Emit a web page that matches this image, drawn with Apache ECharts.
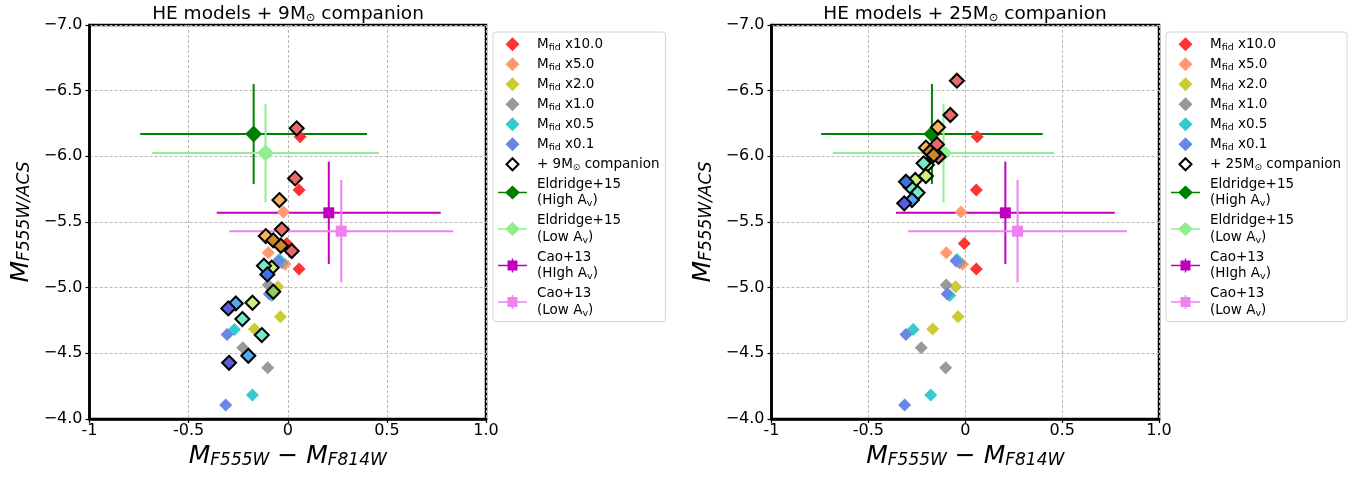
<!DOCTYPE html>
<html><head><meta charset="utf-8">
<script src="https://cdn.jsdelivr.net/npm/echarts@6/dist/echarts.min.js"></script>
<style>html,body{margin:0;padding:0;background:#fff}#c{width:1372px;height:477px}</style>
</head><body><div id="c"></div>
<script>
// ---------- tick labels ----------
const xTickLabels = ['-1', '-0.5', '0', '0.5', '1.0'];
const yTickLabels = ['−7.0', '−6.5', '−6.0', '−5.5', '−5.0', '−4.5', '−4.0'];
const panelTitles = ['HE models + 9M{sun|⊙} companion', 'HE models + 25M{sun|⊙} companion'];

// ---------- HE models alone (same in both panels) ----------
const modelNames = ['Mfid x10.0', 'Mfid x5.0', 'Mfid x2.0', 'Mfid x1.0', 'Mfid x0.5', 'Mfid x0.1'];
const mfid10 = [[0.062, -6.15], [0.057, -5.743], [-0.005, -5.337], [0.057, -5.142]];
const mfid5 = [[-0.022, -5.576], [-0.098, -5.266], [-0.014, -5.178]];
const mfid2 = [[-0.05, -5.007], [-0.037, -4.778], [-0.168, -4.685]];
const mfid1 = [[-0.03, -5.19], [-0.098, -5.02], [-0.227, -4.542], [-0.101, -4.39]];
const mfid05 = [[-0.043, -5.215], [-0.08, -4.94], [-0.269, -4.682], [-0.178, -4.182]];
const mfid01 = [[-0.047, -5.203], [-0.093, -4.952], [-0.306, -4.644], [-0.313, -4.106]];

// ---------- HE models + 9 Msun companion ----------
const c9Red = [[0.045, -6.213], [0.037, -5.832], [-0.030, -5.444], [0.020, -5.279]];
const c9Orange = [[-0.042, -5.667], [-0.111, -5.393]];
const c9DarkOrange = [[-0.073, -5.36], [-0.035, -5.319]];
const c9YellowGreen = [[-0.081, -5.152], [-0.178, -4.885]];
const c9Green = [[-0.073, -4.969]];
const c9Aqua = [[-0.12, -5.167], [-0.229, -4.761], [-0.131, -4.639]];
const c9Blue = [[-0.103, -5.101]];
const c9LightBlue = [[-0.262, -4.88], [-0.199, -4.481]];
const c9DarkBlue = [[-0.3, -4.842], [-0.296, -4.428]];

// ---------- HE models + 25 Msun companion ----------
const c25Red = [[-0.043, -6.576], [-0.077, -6.315], [-0.146, -6.091], [-0.138, -5.997]];
const c25Orange = [[-0.141, -6.221], [-0.203, -6.066]];
const c25DarkOrange = [[-0.181, -6.035], [-0.163, -6.01]];
const c25YellowGreen = [[-0.198, -5.934], [-0.203, -5.85], [-0.258, -5.82]];
const c25Aqua = [[-0.215, -5.947], [-0.284, -5.769], [-0.246, -5.723]];
const c25Blue = [[-0.306, -5.807]];
const c25LightBlue = [[-0.275, -5.667]];
const c25DarkBlue = [[-0.315, -5.642]];

// ---------- observations: [x, y, xerr, yerr] ----------
const eldridgeHigh = [[-0.172, -6.17, 0.572, 0.38]];
const eldridgeLow = [[-0.112, -6.025, 0.572, 0.375]];
const caoHigh = [[0.207, -5.57, 0.565, 0.39]];
const caoLow = [[0.27, -5.43, 0.565, 0.39]];

const obsNames = ['Eldridge+15 (High Av)', 'Eldridge+15 (Low Av)', 'Cao+13 (HIgh Av)', 'Cao+13 (Low Av)'];
const compNames = ['+ 9M⊙ companion', '+ 25M⊙ companion'];

const legendText = {
  'Mfid x10.0': 'M{sub|fid} x10.0',
  'Mfid x5.0': 'M{sub|fid} x5.0',
  'Mfid x2.0': 'M{sub|fid} x2.0',
  'Mfid x1.0': 'M{sub|fid} x1.0',
  'Mfid x0.5': 'M{sub|fid} x0.5',
  'Mfid x0.1': 'M{sub|fid} x0.1',
  '+ 9M⊙ companion': '+ 9M{sun|⊙} companion',
  '+ 25M⊙ companion': '+ 25M{sun|⊙} companion',
  'Eldridge+15 (High Av)': 'Eldridge+15\n(High A{sub|v})',
  'Eldridge+15 (Low Av)': 'Eldridge+15\n(Low A{sub|v})',
  'Cao+13 (HIgh Av)': 'Cao+13\n(HIgh A{sub|v})',
  'Cao+13 (Low Av)': 'Cao+13\n(Low A{sub|v})'
};

const FONT = 'DejaVu Sans';
const modelColors = ['#ff3333', '#ff9973', '#cbcb33', '#999999', '#33cbcb', '#6787e7'];
const modelData = [mfid10, mfid5, mfid2, mfid1, mfid05, mfid01];

const grids = [
  {left: 89.5, top: 25, width: 396.5, height: 394},
  {left: 771.5, top: 25, width: 387.5, height: 394}
];

// legend icons (29 x 14 boxes so that they are not stretched)
const iconDiamond = 'path://M0,7 L0.001,7 Z M29,7 L28.999,7 Z M14.5,0 L21.5,7 L14.5,14 L7.5,7 Z';
const iconDiamondSmall = 'path://M0,7 L0.001,7 Z M29,7 L28.999,7 Z M14.5,1 L20.5,7 L14.5,13 L8.5,7 Z';
const iconLineDiamond = 'path://M0,6.2 L29,6.2 L29,7.8 L0,7.8 Z M14.5,0 L22,7 L14.5,14 L7,7 Z';
const iconLineSquare = 'path://M0,6.2 L29,6.2 L29,7.8 L0,7.8 Z M9.5,2 L19.5,2 L19.5,12 L9.5,12 Z M13.8,0 L15.2,0 L15.2,14 L13.8,14 Z';

function scatterSeries(name, data, color, idx, size, border, z) {
  return {
    type: 'scatter', name, data, xAxisIndex: idx, yAxisIndex: idx,
    symbol: 'diamond', symbolSize: size, z,
    itemStyle: border ? {color, borderColor: '#000', borderWidth: 2, opacity: 1} : {color, opacity: 1},
    emphasis: {disabled: true}
  };
}
function errSeries(data, color, idx) {
  return {
    type: 'custom', name: 'err', data, xAxisIndex: idx, yAxisIndex: idx, z: 1, silent: true,
    encode: {x: 0, y: 1},
    renderItem(params, api) {
      const x = api.value(0), y = api.value(1), ex = api.value(2), ey = api.value(3);
      const l = api.coord([x - ex, y]), r = api.coord([x + ex, y]);
      const t = api.coord([x, y - ey]), b = api.coord([x, y + ey]);
      return {type: 'group', children: [
        {type: 'line', shape: {x1: l[0], y1: l[1], x2: r[0], y2: r[1]}, style: {stroke: color, lineWidth: 2}},
        {type: 'line', shape: {x1: t[0], y1: t[1], x2: b[0], y2: b[1]}, style: {stroke: color, lineWidth: 2}}
      ]};
    }
  };
}
function obsSeries(name, data, color, symbol, size, idx) {
  return {
    type: 'line', name, data: data.map(d => [d[0], d[1]]), xAxisIndex: idx, yAxisIndex: idx,
    symbol, symbolSize: size, showSymbol: true, z: 4,
    lineStyle: {color, width: 2}, itemStyle: {color, borderWidth: 0},
    emphasis: {disabled: true}
  };
}

const series = [];
[0, 1].forEach(idx => {
  series.push(errSeries(eldridgeHigh, '#008000', idx));
  series.push(errSeries(eldridgeLow, '#90ee90', idx));
  series.push(errSeries(caoHigh, '#bf00bf', idx));
  series.push(errSeries(caoLow, '#ee82ee', idx));
  series.push(obsSeries(obsNames[0], eldridgeHigh, '#008000', 'diamond', 17, idx));
  series.push(obsSeries(obsNames[1], eldridgeLow, '#90ee90', 'diamond', 17, idx));
  series.push(obsSeries(obsNames[2], caoHigh, '#bf00bf', 'rect', 11, idx));
  series.push(obsSeries(obsNames[3], caoLow, '#ee82ee', 'rect', 11, idx));
  modelNames.forEach((n, i) => series.push(scatterSeries(n, modelData[i], modelColors[i], idx, 13, false, 5)));
  const groups = idx === 0
    ? [[c9Red, '#e66a6a'], [c9Orange, '#f7b25c'], [c9DarkOrange, '#c88a2a'], [c9YellowGreen, '#cdf07a'],
       [c9Green, '#8fcc5a'], [c9Aqua, '#72ecc8'], [c9Blue, '#3a74e0'], [c9LightBlue, '#52a8f2'], [c9DarkBlue, '#5c5cdc']]
    : [[c25Red, '#e66a6a'], [c25Orange, '#f7b25c'], [c25DarkOrange, '#c88a2a'], [c25YellowGreen, '#cdf07a'],
       [c25Aqua, '#72ecc8'], [c25Blue, '#3a74e0'], [c25LightBlue, '#52a8f2'], [c25DarkBlue, '#5c5cdc']];
  groups.forEach(g => series.push(scatterSeries('comp' + idx, g[0], g[1], idx, 14, true, 6)));
  series.push(scatterSeries(compNames[idx], [], '#ffffff', idx, 14, true, 6));
});

const richSub = {
  sub: {fontSize: 9.5, fontFamily: FONT, color: '#000', verticalAlign: 'bottom', lineHeight: 13},
  sun: {fontSize: 9, fontFamily: FONT, color: '#000', verticalAlign: 'bottom', lineHeight: 13}
};

function makeLegend(idx) {
  const data = modelNames.map(n => ({name: n, icon: iconDiamond}))
    .concat([{name: compNames[idx], icon: iconDiamondSmall}])
    .concat([
      {name: obsNames[0], icon: iconLineDiamond},
      {name: obsNames[1], icon: iconLineDiamond},
      {name: obsNames[2], icon: iconLineSquare},
      {name: obsNames[3], icon: iconLineSquare}
    ]);
  return {
    show: true, orient: 'vertical',
    left: idx === 0 ? 493 : 1166, top: 32,
    data,
    itemWidth: 29, itemHeight: 14, itemGap: 3.5,
    padding: [4, 6, 3, 4],
    backgroundColor: '#fff', borderColor: '#d4d4d4', borderWidth: 1, borderRadius: 3,
    selectedMode: false,
    formatter: n => legendText[n],
    textStyle: {fontFamily: FONT, fontSize: 13.5, color: '#000', lineHeight: 16.5, padding: [0, 0, 0, 5], rich: richSub}
  };
}

const axisNameRich = {
  it: {fontFamily: FONT, fontStyle: 'italic', fontSize: 25, color: '#000'},
  sb: {fontFamily: FONT, fontStyle: 'italic', fontSize: 17, color: '#000', verticalAlign: 'bottom', lineHeight: 22},
  op: {fontFamily: FONT, fontSize: 25, color: '#000'}
};

function xAxis(idx) {
  return {
    type: 'value', gridIndex: idx, min: -1, max: 1, interval: 0.5,
    name: '{it|M}{sb|F555W}{op| − }{it|M}{sb|F814W}', nameLocation: 'middle', nameGap: 22,
    nameTextStyle: {rich: axisNameRich},
    axisLine: {show: true, onZero: false, lineStyle: {color: '#000', width: 2.5}},
    axisTick: {show: true, length: 4, lineStyle: {color: '#000', width: 1.2}},
    axisLabel: {margin: 4, fontFamily: FONT, fontSize: 16, color: '#000',
      formatter: v => xTickLabels[Math.round((v + 1) / 0.5)]},
    splitLine: {show: true, lineStyle: {color: '#b8b8b8', type: [3, 2], width: 1}}
  };
}
function yAxis(idx) {
  return {
    type: 'value', gridIndex: idx, min: -7, max: -4, interval: 0.5, inverse: true,
    name: '{it|M}{sb|F555W/ACS}', nameLocation: 'middle', nameGap: 56,
    nameTextStyle: {rich: axisNameRich},
    axisLine: {show: true, onZero: false, lineStyle: {color: '#000', width: 2.5}},
    axisTick: {show: true, length: 4, lineStyle: {color: '#000', width: 1.2}},
    axisLabel: {margin: 7, fontFamily: FONT, fontSize: 16, color: '#000',
      formatter: v => yTickLabels[Math.round((v + 7) / 0.5)]},
    splitLine: {show: true, lineStyle: {color: '#b8b8b8', type: [3, 2], width: 1}}
  };
}

const option = {
  animation: false,
  backgroundColor: '#fff',
  title: [0, 1].map(idx => ({
    text: panelTitles[idx],
    left: idx === 0 ? 288 : 965, top: 3, textAlign: 'center', padding: [2, 0, 0, 0],
    textStyle: {fontFamily: FONT, fontSize: 18.5, fontWeight: 'normal', color: '#000',
      rich: {sun: {fontSize: 11.5, fontFamily: FONT, color: '#000', verticalAlign: 'bottom', lineHeight: 19}}}
  })),
  grid: grids.map(g => Object.assign({show: true, borderColor: '#000', borderWidth: 2.5, backgroundColor: 'transparent'}, g)),
  xAxis: [xAxis(0), xAxis(1)],
  yAxis: [yAxis(0), yAxis(1)],
  legend: [makeLegend(0), makeLegend(1)],
  series
};

const chart = echarts.init(document.getElementById('c'), null, {renderer: 'canvas'});
chart.setOption(option);
</script>
</body></html>
